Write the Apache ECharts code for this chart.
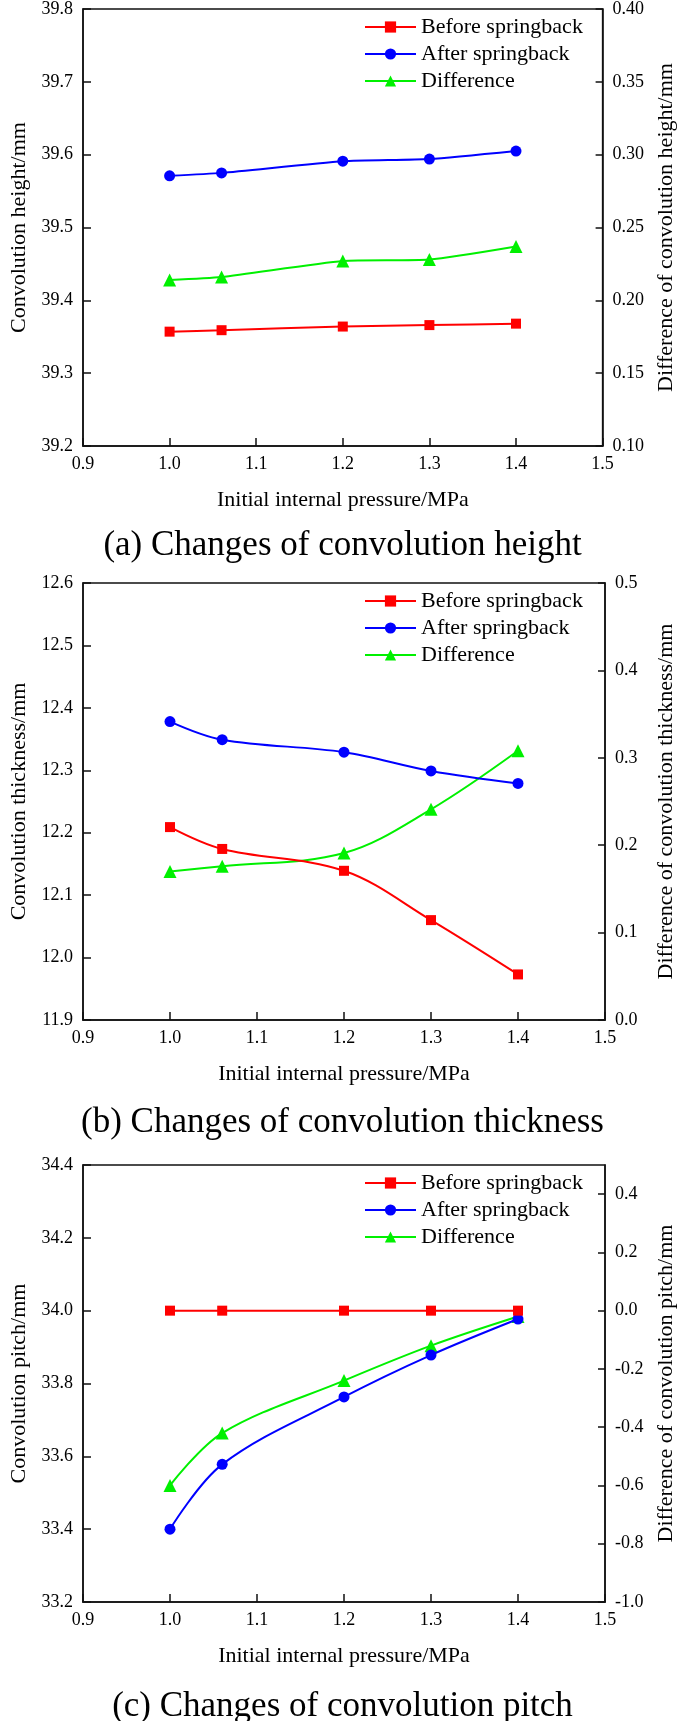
<!DOCTYPE html>
<html>
<head>
<meta charset="utf-8">
<script src="https://cdn.jsdelivr.net/npm/echarts@6/dist/echarts.min.js"></script>
<style>
html,body{margin:0;padding:0;background:#fff;}
#chart{width:685px;height:1721px;}
</style>
</head>
<body>
<div id="chart"></div>
<script>
// ---- data ----
const pressure = [1.0, 1.06, 1.2, 1.3, 1.4];
const seriesNames = ['Before springback', 'After springback', 'Difference'];

const heightBefore = [39.357, 39.359, 39.364, 39.366, 39.368];
const heightAfter  = [39.571, 39.575, 39.591, 39.594, 39.605];
const heightDiff   = [0.214, 0.216, 0.227, 0.228, 0.237];

const thickBefore = [12.209, 12.174, 12.139, 12.060, 11.973];
const thickAfter  = [12.378, 12.349, 12.329, 12.299, 12.279];
const thickDiff   = [0.170, 0.176, 0.191, 0.241, 0.308];

const pitchBefore = [34.0, 34.0, 34.0, 34.0, 34.0];
const pitchAfter  = [33.40, 33.578, 33.763, 33.878, 33.977];
const pitchDiff   = [-0.60, -0.42, -0.24, -0.12, -0.02];

const captions = ['(a) Changes of convolution height', '(b) Changes of convolution thickness', '(c) Changes of convolution pitch'];
const leftNames = ['Convolution height/mm', 'Convolution thickness/mm', 'Convolution pitch/mm'];
const rightNames = ['Difference of convolution height/mm', 'Difference of convolution thickness/mm', 'Difference of convolution pitch/mm'];
const xName = 'Initial internal pressure/MPa';

// ---- layout ----
const FONT = '"Liberation Serif", "Times New Roman", serif';
const gridTops = [9, 583, 1165];
const captionTops = [523, 1100, 1684];
const gridH = 437;
const colors = ['#ff0000', '#0000ff', '#00f000'];
const symbols = ['rect', 'circle', 'triangle'];
const symSizes = [10, 11, 13];

const leftRanges = [
  {min: 39.2, max: 39.8, interval: 0.1, dec: 1},
  {min: 11.9, max: 12.6, interval: 0.1, dec: 1},
  {min: 33.2, max: 34.4, interval: 0.2, dec: 1}
];
const rightRanges = [
  {min: 0.10, max: 0.40, interval: 0.05, dec: 2},
  {min: 0.0, max: 0.5, interval: 0.1, dec: 1},
  {min: -1.0, max: 0.5, interval: 0.2, dec: 1, hideMax: true}
];
const dataSets = [
  [heightBefore, heightAfter, heightDiff],
  [thickBefore, thickAfter, thickDiff],
  [pitchBefore, pitchAfter, pitchDiff]
];

function fmt(dec) {
  return function (v) {
    if (Math.abs(v) < 1e-9) v = 0;
    return v.toFixed(dec);
  };
}
const axisLineStyle = {color: '#111', width: 1.5};

const option = {
  animation: false,
  backgroundColor: '#fff',
  title: [], grid: [], xAxis: [], yAxis: [], legend: [], series: []
};

for (let p = 0; p < 3; p++) {
  option.grid.push({
    left: 69, width: 543, top: gridTops[p], height: gridH,
    show: true, borderColor: '#111', borderWidth: 1.5, backgroundColor: 'transparent'
  });
  option.title.push({
    text: captions[p], left: 'center', top: captionTops[p],
    textStyle: {fontFamily: FONT, fontSize: 35, fontWeight: 'normal', color: '#000'}
  });
  option.xAxis.push({
    type: 'value', gridIndex: p, min: 0.9, max: 1.5, interval: 0.1,
    name: xName, nameLocation: 'middle', nameGap: 43,
    nameTextStyle: {fontFamily: FONT, fontSize: 22, color: '#000'},
    axisLine: {show: true, onZero: false, lineStyle: axisLineStyle},
    axisTick: {show: true, inside: true, length: 8, lineStyle: axisLineStyle},
    axisLabel: {fontFamily: FONT, fontSize: 18, color: '#000', margin: 9, formatter: fmt(1)},
    splitLine: {show: false}
  });
  const L = leftRanges[p], R = rightRanges[p];
  option.yAxis.push({
    type: 'value', gridIndex: p, position: 'left', min: L.min, max: L.max, interval: L.interval,
    name: leftNames[p], nameLocation: 'middle', nameGap: 53, nameRotate: 90,
    nameTextStyle: {fontFamily: FONT, fontSize: 22, color: '#000'},
    axisLine: {show: true, onZero: false, lineStyle: axisLineStyle},
    axisTick: {show: true, inside: true, length: 8, lineStyle: axisLineStyle},
    axisLabel: {fontFamily: FONT, fontSize: 18, color: '#000', margin: 10, formatter: fmt(L.dec)},
    splitLine: {show: false}
  });
  option.yAxis.push({
    type: 'value', gridIndex: p, position: 'right', min: R.min, max: R.max, interval: R.interval,
    name: rightNames[p], nameLocation: 'middle', nameGap: 50, nameRotate: 90,
    nameTextStyle: {fontFamily: FONT, fontSize: 22, color: '#000'},
    axisLine: {show: true, onZero: false, lineStyle: axisLineStyle},
    axisTick: {show: true, inside: true, length: 7, lineStyle: axisLineStyle},
    axisLabel: {fontFamily: FONT, fontSize: 18, color: '#000', margin: 10, formatter: fmt(R.dec),
      showMaxLabel: R.hideMax ? false : null},
    splitLine: {show: false}
  });
  option.legend.push({
    orient: 'vertical', left: 359, top: gridTops[p] + 2,
    itemWidth: 51, itemHeight: 14, itemGap: 5,
    data: seriesNames,
    textStyle: {fontFamily: FONT, fontSize: 22, color: '#000'}
  });
  for (let s = 0; s < 3; s++) {
    const vals = dataSets[p][s];
    option.series.push({
      name: seriesNames[s], type: 'line',
      xAxisIndex: p, yAxisIndex: p * 2 + (s === 2 ? 1 : 0),
      data: pressure.map((x, i) => [x, vals[i]]),
      smooth: p === 0 ? 0.2 : 0.35,
      symbol: symbols[s], symbolSize: symSizes[s], showAllSymbol: true,
      lineStyle: {color: colors[s], width: 2},
      itemStyle: {color: colors[s]},
      z: 3 - s
    });
  }
}

const chart = echarts.init(document.getElementById('chart'), null, {renderer: 'canvas'});
chart.setOption(option);
</script>
</body>
</html>
